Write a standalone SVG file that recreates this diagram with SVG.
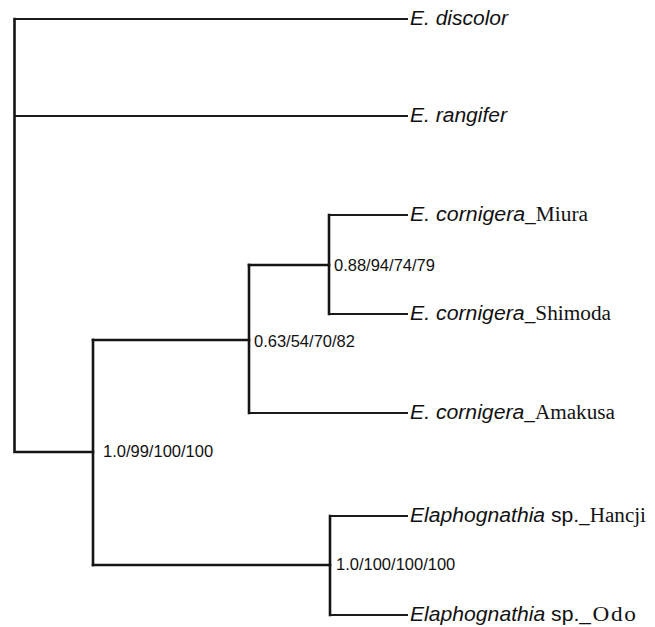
<svg xmlns="http://www.w3.org/2000/svg" width="655" height="627" viewBox="0 0 655 627">
<style>
.br{stroke:#151515;stroke-width:2.6;fill:none;stroke-linecap:square}
.lf{stroke:#1a1a1a;stroke-width:2;fill:none}
.nm{font-family:"Liberation Sans",Arial,sans-serif;font-size:20px;font-style:italic;fill:#111}
.tm{font-family:"Liberation Serif","Times New Roman",serif;font-style:normal}
.rm{font-style:normal}
.sp{font-family:"Liberation Sans",Arial,sans-serif;font-size:16.5px;fill:#111}
</style>
<rect width="655" height="627" fill="#fff"/>
<g id="connectors">
<path class="br" d="M14.5,19 V452 H93"/>
<path class="br" d="M93,340 V565"/>
<path class="br" d="M93,340 H249"/>
<path class="br" d="M249,265 V413"/>
<path class="br" d="M249,265 H329"/>
<path class="br" d="M93,565 H330"/>
<path class="br" d="M329,215 V314"/>
<path class="br" d="M330,516 V615"/>
<path class="lf" d="M14.5,19 H408"/>
<path class="lf" d="M14.5,116 H408"/>
<path class="lf" d="M329,215 H408"/>
<path class="lf" d="M329,314 H408"/>
<path class="lf" d="M249,413 H408"/>
<path class="lf" d="M330,516 H408"/>
<path class="lf" d="M330,615 H408"/>
</g>
<g id="leaf-discolor"><text class="nm" x="410" y="25" textLength="98" lengthAdjust="spacingAndGlyphs">E. discolor</text></g>
<g id="leaf-rangifer"><text class="nm" x="410" y="122" textLength="97" lengthAdjust="spacingAndGlyphs">E. rangifer</text></g>
<g id="leaf-miura"><text class="nm" x="410" y="221" textLength="178" lengthAdjust="spacingAndGlyphs">E. cornigera<tspan class="tm">_Miura</tspan></text></g>
<g id="leaf-shimoda"><text class="nm" x="410" y="320" textLength="201" lengthAdjust="spacingAndGlyphs">E. cornigera<tspan class="tm">_Shimoda</tspan></text></g>
<g id="leaf-amakusa"><text class="nm" x="410" y="419" textLength="205" lengthAdjust="spacingAndGlyphs">E. cornigera<tspan class="tm">_Amakusa</tspan></text></g>
<g id="leaf-hancji"><text class="nm" x="410" y="522" textLength="236" lengthAdjust="spacingAndGlyphs">Elaphognathia<tspan class="rm"> sp.</tspan><tspan class="tm">_Hancji</tspan></text></g>
<g id="leaf-odo" transform="translate(410,621) scale(1.058,1)"><text class="nm" x="0" y="0">Elaphognathia<tspan class="rm"> sp.</tspan><tspan class="tm" font-size="22" letter-spacing="1.5">_Odo</tspan></text></g>
<g id="node-miura-shimoda"><text class="sp" x="334" y="271">0.88/94/74/79</text></g>
<g id="node-cornigera"><text class="sp" x="254" y="347">0.63/54/70/82</text></g>
<g id="node-ingroup"><text class="sp" x="103" y="457">1.0/99/100/100</text></g>
<g id="node-elaphognathia"><text class="sp" x="336" y="570">1.0/100/100/100</text></g>
</svg>
